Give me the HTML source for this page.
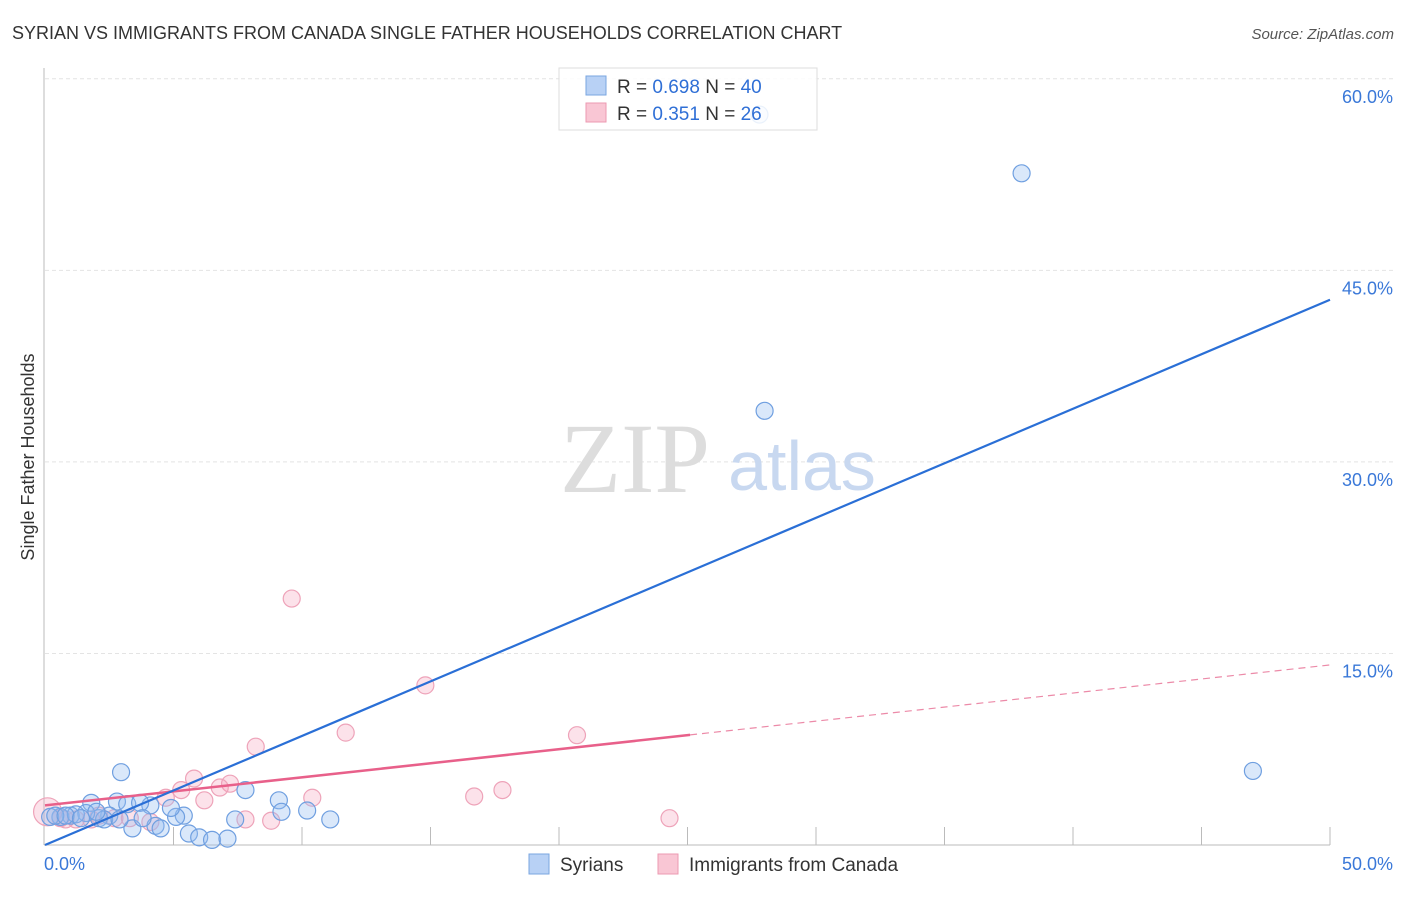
<!DOCTYPE html>
<html><head><meta charset="utf-8"><style>
body{margin:0;background:#fff;font-family:"Liberation Sans",sans-serif}
</style></head><body>
<svg width="1406" height="892" xmlns="http://www.w3.org/2000/svg">
<text x="12" y="39" font-size="18" fill="#333">SYRIAN VS IMMIGRANTS FROM CANADA SINGLE FATHER HOUSEHOLDS CORRELATION CHART</text>
<text x="1394" y="39" font-size="15" fill="#555" font-style="italic" text-anchor="end">Source: ZipAtlas.com</text>
<g id="grid"></g>
<text x="635" y="492" font-size="100" fill="#ddd" font-family="Liberation Serif" text-anchor="middle">ZIP</text>
<text x="802" y="490" font-size="70" fill="#c8d8f0" text-anchor="middle">atlas</text>
<g id="pts"></g>
<text transform="translate(34,457) rotate(-90)" font-size="18" fill="#333" text-anchor="middle">Single Father Households</text>
<g>
<rect x="559" y="68" width="258" height="62" fill="#fff" fill-opacity="0.85" stroke="#ddd"/>
<rect x="586" y="76" width="20" height="19" fill="#b8d1f5" stroke="#7aa6e0"/>
<text x="617" y="93" font-size="19" fill="#333">R = <tspan fill="#2f6fd6">0.698</tspan>   N = <tspan fill="#2f6fd6">40</tspan></text>
<rect x="586" y="103" width="20" height="19" fill="#f9c6d4" stroke="#ec9ab2"/>
<text x="617" y="120" font-size="19" fill="#333">R =  <tspan fill="#2f6fd6">0.351</tspan>   N = <tspan fill="#2f6fd6">26</tspan></text>
</g>
<g>
<rect x="529" y="854" width="20" height="20" fill="#b8d1f5" stroke="#7aa6e0"/>
<text x="560" y="871" font-size="19" fill="#333">Syrians</text>
<rect x="658" y="854" width="20" height="20" fill="#f9c6d4" stroke="#ec9ab2"/>
<text x="689" y="871" font-size="19" fill="#333">Immigrants from Canada</text>
</g>
</svg>
<script>
const yTicks=[15,30,45,60];
const yTickLabels=["15.0%","30.0%","45.0%","60.0%"];
const syrX=[38.0,28.0,47.0,27.8,2.96,7.8,9.1,10.2,11.1,9.2,5.4,5.1,4.3,4.5,3.4,5.6,6.0,6.5,7.1,7.4,1.8,2.8,3.2,4.1,3.7,2.5,2.1,1.6,1.0,0.6,0.2,0.4,1.2,2.3,0.8,3.8,4.9,2.0,2.9,1.4];
const syrY=[52.6,34.0,5.8,57.2,5.7,4.3,3.5,2.7,2.0,2.6,2.3,2.2,1.5,1.3,1.3,0.9,0.6,0.4,0.5,2.0,3.3,3.4,3.2,3.1,3.3,2.3,2.1,2.5,2.3,2.2,2.2,2.3,2.4,2.0,2.3,2.1,2.9,2.6,2.0,2.1];
const canX=[9.6,14.8,11.7,20.7,8.2,5.8,7.2,6.8,5.3,6.2,4.7,10.4,17.8,16.7,24.3,7.8,8.8,0.6,1.8,3.3,4.1,2.7,1.2,2.1,0.1,0.8];
const canY=[19.3,12.5,8.8,8.6,7.7,5.2,4.8,4.5,4.3,3.5,3.7,3.7,4.3,3.8,2.1,2.0,1.9,2.1,2.0,2.1,1.8,2.1,2.0,2.3,2.6,2.0];
const syrLine=[0,42.7], canLine=[3.1,14.1], canSolidEnd=25.1;
const NS="http://www.w3.org/2000/svg";
const X=v=>45+v*25.7, Y=v=>845-v*12.77;
function mk(p,t,a){const e=document.createElementNS(NS,t);for(const k in a)e.setAttribute(k,a[k]);p.appendChild(e);return e;}
const grid=document.getElementById('grid'), pts=document.getElementById('pts');
yTicks.forEach((t,i)=>{
 const l=mk(grid,'line',{x1:45,x2:1393,y1:Y(t),y2:Y(t),stroke:'#e4e4e4','stroke-dasharray':'4 3'});
 
 
 const tx=mk(grid,'text',{x:1393,y:Y(t)+24,'font-size':18,fill:'#3a78d8','text-anchor':'end'});tx.textContent=yTickLabels[i];
 
 
});
let ax=mk(grid,'line',{x1:44,x2:44,y1:68,y2:845,stroke:'#bbb'});


ax=mk(grid,'line',{x1:44,x2:1330,y1:845,y2:845,stroke:'#bbb'});


for(let i=1;i<=10;i++){const t=mk(grid,'line',{x1:X(i*5),x2:X(i*5),y1:827,y2:845,stroke:'#bbb'});
 
 }
let t0=mk(grid,'text',{x:44,y:870,'font-size':18,fill:'#3a78d8'});t0.textContent='0.0%';


t0=mk(grid,'text',{x:1393,y:870,'font-size':18,fill:'#3a78d8','text-anchor':'end'});t0.textContent='50.0%';


canX.forEach((x,i)=>{const c=mk(pts,'circle',{cx:X(x),cy:Y(canY[i]),r:i==24?14:8.5,fill:'rgba(244,160,185,0.3)',stroke:'#eea3b9','stroke-width':1.2});
 
 });
syrX.forEach((x,i)=>{const c=mk(pts,'circle',{cx:X(x),cy:Y(syrY[i]),r:8.5,fill:'rgba(150,190,240,0.35)',stroke:'#6f9fe0','stroke-width':1.2});
 
 });
const cy=v=>canLine[0]+(canLine[1]-canLine[0])*v/50;
let ln=mk(pts,'line',{x1:X(canSolidEnd),y1:Y(cy(canSolidEnd)),x2:X(50),y2:Y(canLine[1]),stroke:'#ec8aa8','stroke-width':1.2,'stroke-dasharray':'7 5'});


ln=mk(pts,'line',{x1:X(0),y1:Y(canLine[0]),x2:X(canSolidEnd),y2:Y(cy(canSolidEnd)),stroke:'#e8608a','stroke-width':2.5});


ln=mk(pts,'line',{x1:X(0),y1:Y(syrLine[0]),x2:X(50),y2:Y(syrLine[1]),stroke:'#2a6fd6','stroke-width':2.2});


</script>
</body></html>
